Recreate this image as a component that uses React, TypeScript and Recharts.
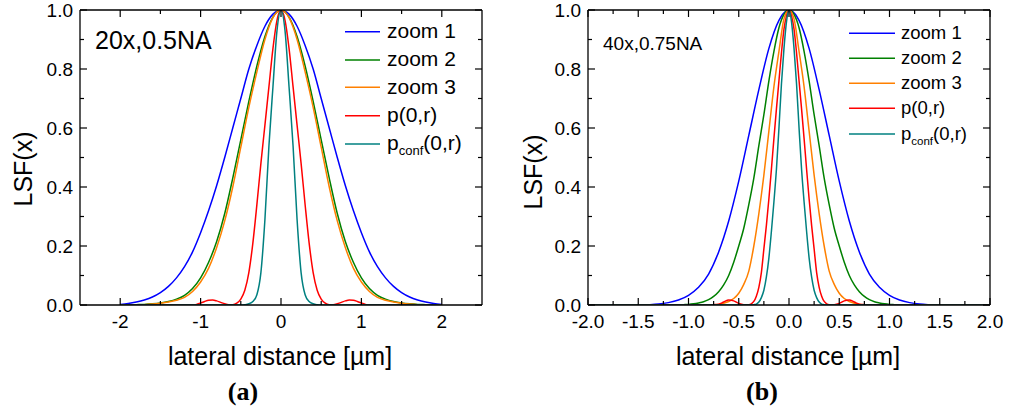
import { LineChart, Line, XAxis, YAxis } from "recharts"

// shared x grid, 0.1 steps
const X_COARSE = [
  -2, -1.9, -1.8, -1.7, -1.6, -1.5, -1.4, -1.3, -1.2, -1.1, -1, -0.9, -0.8, -0.7, -0.6, -0.5, -0.4, -0.3, -0.2, -0.1,
  0, 0.1, 0.2, 0.3, 0.4, 0.5, 0.6, 0.7, 0.8, 0.9, 1, 1.1, 1.2, 1.3, 1.4, 1.5, 1.6, 1.7, 1.8, 1.9, 2,
]

// panel (a): 20x, 0.5NA
const BLUE_A = [
  0.002, 0.005, 0.01, 0.017, 0.027, 0.042, 0.063, 0.092, 0.13, 0.18, 0.245, 0.32, 0.405, 0.5, 0.6, 0.7, 0.8, 0.88, 0.945, 0.986,
  1, 0.986, 0.945, 0.88, 0.8, 0.7, 0.6, 0.5, 0.405, 0.32, 0.245, 0.18, 0.13, 0.092, 0.063, 0.042, 0.027, 0.017, 0.01, 0.005, 0.002,
]
const GREEN_A = [
  0, 0, 0.001, 0.002, 0.004, 0.007, 0.012, 0.02, 0.033, 0.056, 0.092, 0.145, 0.215, 0.31, 0.43, 0.56, 0.69, 0.81, 0.91, 0.976,
  1, 0.976, 0.91, 0.81, 0.69, 0.56, 0.43, 0.31, 0.215, 0.145, 0.092, 0.056, 0.033, 0.02, 0.012, 0.007, 0.004, 0.002, 0.001, 0, 0,
]
const ORANGE_A = [
  0, 0, 0, 0.001, 0.003, 0.006, 0.01, 0.016, 0.026, 0.046, 0.078, 0.125, 0.195, 0.285, 0.4, 0.535, 0.67, 0.79, 0.9, 0.974,
  1, 0.974, 0.9, 0.79, 0.67, 0.535, 0.4, 0.285, 0.195, 0.125, 0.078, 0.046, 0.026, 0.016, 0.01, 0.006, 0.003, 0.001, 0, 0, 0,
]
const X_FINE_A = [
  -2, -1.5, -1.1, -1.05, -1, -0.95, -0.9, -0.85, -0.8, -0.75, -0.7, -0.65, -0.6, -0.55, -0.5, -0.45, -0.4, -0.35, -0.3, -0.25,
  -0.2, -0.15, -0.1, -0.05, 0, 0.05, 0.1, 0.15, 0.2, 0.25, 0.3, 0.35, 0.4, 0.45, 0.5, 0.55, 0.6, 0.65, 0.7, 0.75, 0.8, 0.85,
  0.9, 0.95, 1, 1.05, 1.1, 1.5, 2,
]
const RED_A = [
  0, 0, 0, 0.002, 0.007, 0.012, 0.016, 0.017, 0.014, 0.009, 0.004, 0.001, 0.001, 0.006, 0.02, 0.05, 0.11, 0.21, 0.34, 0.48,
  0.61, 0.74, 0.87, 0.965, 1, 0.965, 0.87, 0.74, 0.61, 0.48, 0.34, 0.21, 0.11, 0.05, 0.02, 0.006, 0.001, 0.001, 0.004, 0.009,
  0.014, 0.017, 0.016, 0.012, 0.007, 0.002, 0, 0, 0,
]
const TEAL_A = [
  0, 0, 0, 0, 0, 0, 0, 0, 0, 0, 0, 0, 0, 0, 0, 0.001, 0.004, 0.012, 0.035, 0.11,
  0.29, 0.54, 0.74, 0.93, 1, 0.93, 0.74, 0.54, 0.29, 0.11, 0.035, 0.012, 0.004, 0.001, 0, 0, 0, 0, 0, 0,
  0, 0, 0, 0, 0, 0, 0, 0, 0,
]

// panel (b): 40x, 0.75NA
const BLUE_B = [
  0, 0, 0, 0, 0, 0, 0.001, 0.003, 0.008, 0.017, 0.033, 0.06, 0.105, 0.18, 0.285, 0.42, 0.575, 0.73, 0.87, 0.965,
  1, 0.965, 0.87, 0.73, 0.575, 0.42, 0.285, 0.18, 0.105, 0.06, 0.033, 0.017, 0.008, 0.003, 0.001, 0, 0, 0, 0, 0, 0,
]
const X_MID_B = [
  -2, -1.5, -1.2, -1.15, -1.1, -1.05, -1, -0.95, -0.9, -0.85, -0.8, -0.75, -0.7, -0.65, -0.6, -0.55, -0.5, -0.45, -0.4, -0.35,
  -0.3, -0.25, -0.2, -0.15, -0.1, -0.05, 0, 0.05, 0.1, 0.15, 0.2, 0.25, 0.3, 0.35, 0.4, 0.45, 0.5, 0.55, 0.6, 0.65,
  0.7, 0.75, 0.8, 0.85, 0.9, 0.95, 1, 1.05, 1.1, 1.15, 1.2, 1.5, 2,
]
const GREEN_B = [
  0, 0, 0, 0, 0, 0.001, 0.002, 0.004, 0.007, 0.011, 0.018, 0.029, 0.045, 0.068, 0.1, 0.145, 0.2, 0.26, 0.34, 0.43,
  0.54, 0.645, 0.76, 0.86, 0.94, 0.985, 1, 0.985, 0.94, 0.86, 0.76, 0.645, 0.54, 0.43, 0.34, 0.26, 0.2, 0.145, 0.1, 0.068,
  0.045, 0.029, 0.018, 0.011, 0.007, 0.004, 0.002, 0.001, 0, 0, 0, 0, 0,
]
const ORANGE_B = [
  0, 0, 0, 0, 0, 0, 0, 0, 0, 0, 0, 0.001, 0.002, 0.006, 0.012, 0.022, 0.04, 0.07, 0.115, 0.2,
  0.31, 0.44, 0.59, 0.74, 0.86, 0.97, 1, 0.97, 0.86, 0.74, 0.59, 0.44, 0.31, 0.2, 0.115, 0.07, 0.04, 0.022, 0.012, 0.006,
  0.002, 0.001, 0, 0, 0, 0, 0, 0, 0, 0, 0, 0, 0,
]
const X_FINE_B = [
  -2, -1.5, -1, -0.9, -0.8, -0.75, -0.7, -0.65, -0.6, -0.55, -0.5, -0.45, -0.4, -0.375, -0.35, -0.325, -0.3, -0.275, -0.25, -0.225,
  -0.2, -0.175, -0.15, -0.125, -0.1, -0.075, -0.05, -0.025, 0, 0.025, 0.05, 0.075, 0.1, 0.125, 0.15, 0.175, 0.2, 0.225, 0.25, 0.275,
  0.3, 0.325, 0.35, 0.375, 0.4, 0.45, 0.5, 0.55, 0.6, 0.65, 0.7, 0.75, 0.8, 0.9, 1, 1.5, 2,
]
const RED_B = [
  0, 0, 0, 0, 0, 0.001, 0.003, 0.01, 0.017, 0.014, 0.005, 0.001, 0.001, 0.004, 0.012, 0.03, 0.06, 0.11, 0.19, 0.27,
  0.36, 0.46, 0.565, 0.665, 0.76, 0.855, 0.935, 0.98, 1, 0.98, 0.935, 0.855, 0.76, 0.665, 0.565, 0.46, 0.36, 0.27, 0.19, 0.11,
  0.06, 0.03, 0.012, 0.004, 0.001, 0.001, 0.005, 0.014, 0.017, 0.01, 0.003, 0.001, 0, 0, 0, 0, 0,
]
const TEAL_B = [
  0, 0, 0, 0, 0, 0, 0, 0, 0, 0, 0, 0, 0, 0, 0.001, 0.003, 0.01, 0.025, 0.05, 0.095,
  0.16, 0.25, 0.35, 0.46, 0.6, 0.75, 0.87, 0.96, 1, 0.96, 0.87, 0.75, 0.6, 0.46, 0.35, 0.25, 0.16, 0.095, 0.05, 0.025,
  0.01, 0.003, 0.001, 0, 0, 0, 0, 0, 0, 0, 0, 0, 0, 0, 0, 0, 0,
]

const X_TICKS_A = [-2, -1.5, -1, -0.5, 0, 0.5, 1, 1.5, 2]
const X_TICKS_B = [-2, -1.75, -1.5, -1.25, -1, -0.75, -0.5, -0.25, 0, 0.25, 0.5, 0.75, 1, 1.25, 1.5, 1.75, 2]
const Y_TICKS = [0, 0.1, 0.2, 0.3, 0.4, 0.5, 0.6, 0.7, 0.8, 0.9, 1]
const LEGEND = ["zoom 1", "zoom 2", "zoom 3", "p(0,r)"]

const COLORS = ["#0000ff", "#008000", "#ff8000", "#ff0000", "#008080"]

const SANS = "'Liberation Sans', Arial, sans-serif"
const AXIS = { stroke: "#000", strokeWidth: 1.3 }
const MAJOR = 7
const MINOR = 4
const TICK_FONT = 19

const toPoints = (xs: number[], ys: number[]) => xs.map((x, i) => ({ x, y: ys[i] }))

function Panel({ left, yWidth, marginRight, domain, xTicks, isMajorX, fmtX, series }: any) {
  const majorY = (v: number) => Math.round(v * 10) % 2 === 0
  return (
    <div style={{ position: "absolute", left, top: 0, width: 500, height: 345 }}>
      <LineChart width={500} height={345} margin={{ top: 9, right: marginRight, bottom: 0, left: 0 }}>
        <XAxis
          dataKey="x"
          type="number"
          domain={domain}
          ticks={xTicks}
          interval={0}
          height={40}
          tickSize={0}
          tickMargin={0}
          axisLine={AXIS}
          tickLine={false}
          allowDataOverflow
          tick={(p: any) => {
            const v = p.payload.value
            const m = isMajorX(v)
            return (
              <g>
                <line x1={p.x} x2={p.x} y1={p.y} y2={p.y - (m ? MAJOR : MINOR)} stroke="#000" strokeWidth={1.2} />
                {m && (
                  <text x={p.x} y={p.y + 23} textAnchor="middle" fontSize={TICK_FONT} fontFamily={SANS} fill="#000">
                    {fmtX(v)}
                  </text>
                )}
              </g>
            )
          }}
        />
        <XAxis
          xAxisId="top"
          orientation="top"
          dataKey="x"
          type="number"
          domain={domain}
          ticks={xTicks}
          interval={0}
          height={1}
          tickSize={0}
          tickMargin={0}
          axisLine={AXIS}
          tickLine={false}
          allowDataOverflow
          tick={(p: any) => (
            <line
              x1={p.x}
              x2={p.x}
              y1={p.y}
              y2={p.y + (isMajorX(p.payload.value) ? MAJOR : MINOR)}
              stroke="#000"
              strokeWidth={1.2}
            />
          )}
        />
        <YAxis
          type="number"
          domain={[0, 1]}
          ticks={Y_TICKS}
          interval={0}
          width={yWidth}
          tickSize={0}
          tickMargin={0}
          axisLine={AXIS}
          tickLine={false}
          allowDataOverflow
          tick={(p: any) => {
            const v = p.payload.value
            const m = majorY(v)
            return (
              <g>
                <line x1={p.x} x2={p.x + (m ? MAJOR : MINOR)} y1={p.y} y2={p.y} stroke="#000" strokeWidth={1.2} />
                {m && (
                  <text x={p.x - 7} y={p.y + 7} textAnchor="end" fontSize={TICK_FONT} fontFamily={SANS} fill="#000">
                    {v.toFixed(1)}
                  </text>
                )}
              </g>
            )
          }}
        />
        <YAxis
          yAxisId="right"
          orientation="right"
          type="number"
          domain={[0, 1]}
          ticks={Y_TICKS}
          interval={0}
          width={1}
          tickSize={0}
          tickMargin={0}
          axisLine={AXIS}
          tickLine={false}
          allowDataOverflow
          tick={(p: any) => (
            <line
              x1={p.x}
              x2={p.x - (majorY(p.payload.value) ? MAJOR : MINOR)}
              y1={p.y}
              y2={p.y}
              stroke="#000"
              strokeWidth={1.2}
            />
          )}
        />
        {series.map((s: any, i: number) => (
          <Line
            key={i}
            data={toPoints(s[0], s[1])}
            dataKey="y"
            type="monotone"
            stroke={COLORS[i]}
            strokeWidth={1.5}
            dot={false}
            activeDot={false}
            isAnimationActive={false}
          />
        ))}
      </LineChart>
    </div>
  )
}

function LegendBox({ x0, x1, tx, rows, size, sub }: any) {
  return (
    <g fontFamily={SANS} fill="#000">
      {rows.map((ry: number, i: number) => (
        <g key={i}>
          <line x1={x0} x2={x1} y1={ry} y2={ry} stroke={COLORS[i]} strokeWidth={1.5} />
          {i < 4 ? (
            <text x={tx} y={ry + size * 0.3} fontSize={size}>
              {LEGEND[i]}
            </text>
          ) : (
            <text x={tx} y={ry + size * 0.3} fontSize={size}>
              p
              <tspan fontSize={sub} dy={5}>
                conf
              </tspan>
              <tspan fontSize={size} dy={-5}>
                (0,r)
              </tspan>
            </text>
          )}
        </g>
      ))}
    </g>
  )
}

export default function App() {
  return (
    <div style={{ position: "absolute", left: 0, top: 0, width: 1011, height: 418, background: "#fff" }}>
      <Panel
        left={0}
        yWidth={80}
        marginRight={17}
        domain={[-2.5, 2.5]}
        xTicks={X_TICKS_A}
        isMajorX={(v: number) => Number.isInteger(v)}
        fmtX={(v: number) => String(v)}
        series={[
          [X_COARSE, BLUE_A],
          [X_COARSE, GREEN_A],
          [X_COARSE, ORANGE_A],
          [X_FINE_A, RED_A],
          [X_FINE_A, TEAL_A],
        ]}
      />
      <Panel
        left={507}
        yWidth={81}
        marginRight={16}
        domain={[-2, 2]}
        xTicks={X_TICKS_B}
        isMajorX={(v: number) => Number.isInteger(v * 2)}
        fmtX={(v: number) => v.toFixed(1)}
        series={[
          [X_COARSE, BLUE_B],
          [X_MID_B, GREEN_B],
          [X_MID_B, ORANGE_B],
          [X_FINE_B, RED_B],
          [X_FINE_B, TEAL_B],
        ]}
      />
      <svg
        width={1011}
        height={418}
        style={{ position: "absolute", left: 0, top: 0, pointerEvents: "none" }}
      >
        <text x={95} y={49} fontSize={25} fontFamily={SANS}>20x,0.5NA</text>
        <text x={603} y={50} fontSize={19} fontFamily={SANS}>40x,0.75NA</text>
        <LegendBox x0={345} x1={380} tx={387} rows={[31.7, 60, 87.3, 115.7, 144]} size={21} sub={13} />
        <LegendBox x0={849} x1={895} tx={901} rows={[33.3, 58.3, 83.3, 108.3, 134]} size={18.5} sub={11.5} />
        <text x={280} y={365} textAnchor="middle" fontSize={25} fontFamily={SANS}>lateral distance [µm]</text>
        <text x={788} y={365} textAnchor="middle" fontSize={25} fontFamily={SANS}>lateral distance [µm]</text>
        <text x={32} y={169} textAnchor="middle" fontSize={25} fontFamily={SANS} transform="rotate(-90, 32, 169)">LSF(x)</text>
        <text x={542} y={172} textAnchor="middle" fontSize={25} fontFamily={SANS} transform="rotate(-90, 542, 172)">LSF(x)</text>
        <text x={243} y={400} textAnchor="middle" fontSize={26} fontWeight="bold" fontFamily="'Liberation Serif', serif">(a)</text>
        <text x={762} y={400} textAnchor="middle" fontSize={26} fontWeight="bold" fontFamily="'Liberation Serif', serif">(b)</text>
      </svg>
    </div>
  )
}
